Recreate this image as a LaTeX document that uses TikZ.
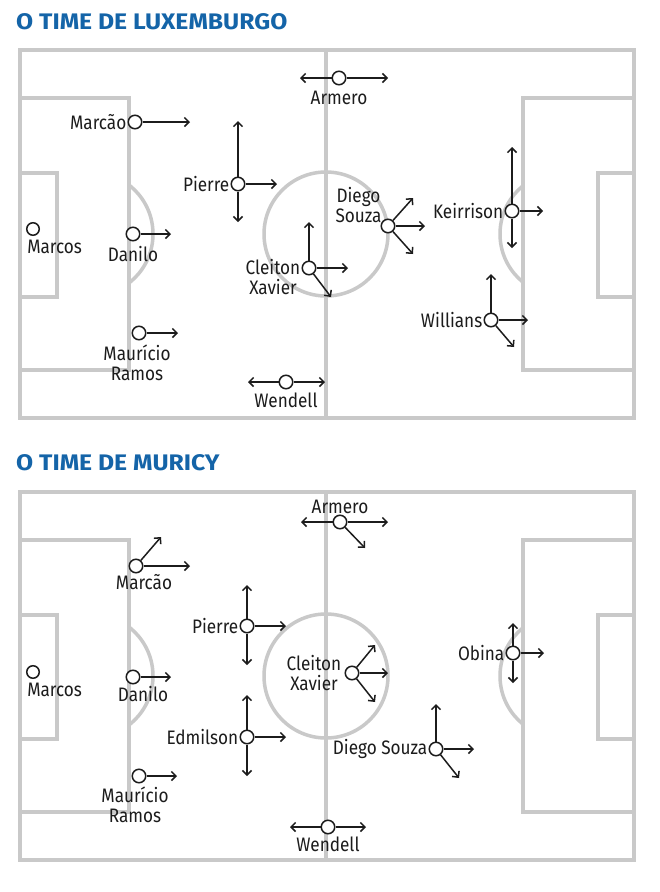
\documentclass[tikz,border=0pt]{standalone}
\usepackage{fontspec}
\usepackage{xcolor}
\usepackage{tikz}
\usetikzlibrary{arrows.meta,positioning}
\setmainfont{Fira Sans}
\newfontfamily\plfamily[FakeStretch=0.88]{Fira Sans}
\newfontfamily\ttlfamily[FakeStretch=1.1]{Fira Sans}
\definecolor{PitchGray} {HTML}{C9C9C9}
\definecolor{TitleBlue} {HTML}{1464A8}
\definecolor{InkBlack}  {HTML}{1C1C1C}
\newcommand\plfont{\plfamily\fontsize{19.5}{20}\selectfont}
\newcommand\ttlfont{\ttlfamily\fontsize{22.5}{24}\selectfont\bfseries}

\tikzset{
  pitch/.style={draw=PitchGray,line width=3.5pt},
  player/.style={circle,draw=InkBlack,fill=white,line width=1.5pt,
                 minimum size=13.5pt,inner sep=0pt},
  run/.style={draw=InkBlack,line width=1.5pt,
              -{Straight Barb[length=4.5pt,width=9pt]}},
  plabel/.style={font=\plfont,text=InkBlack,inner sep=1pt,align=center},
  teamtitle/.style={font=\ttlfont,text=TitleBlue,anchor=base west,inner sep=0pt}
}

\begin{document}
\begin{tikzpicture}[x=1pt,y=-1pt]
  \fill[white] (0,0) rectangle (660,892);
  \useasboundingbox (0,0) rectangle (660,892);

  % the two pitches
  \foreach \t in {50,492}{
    \draw[pitch] (20,\t) rectangle (634,\t+368);
    \draw[pitch] (326,\t) -- (326,\t+368);
    \draw[pitch] (326,\t+184) circle (62);
    \draw[pitch] (20,\t+48) -- (129,\t+48) -- (129,\t+320) -- (20,\t+320);
    \draw[pitch] (20,\t+123) -- (57,\t+123) -- (57,\t+247) -- (20,\t+247);
    \draw[pitch] (634,\t+48) -- (523,\t+48) -- (523,\t+320) -- (634,\t+320);
    \draw[pitch] (634,\t+123) -- (598,\t+123) -- (598,\t+247) -- (634,\t+247);
    \begin{scope}
      \clip (129,\t) rectangle (200,\t+368);
      \draw[pitch] (91,\t+184) circle (62);
    \end{scope}
    \begin{scope}
      \clip (450,\t) rectangle (523,\t+368);
      \draw[pitch] (562,\t+184) circle (62);
    \end{scope}
  }

  \node[teamtitle] (title-lx) at (16,29) {O TIME DE LUXEMBURGO};
  \node[teamtitle] (title-mu) at (16,470) {O TIME DE MURICY};

  % Luxemburgo
  \node[player] (lx-armero)   at (339,78)  {};
  \node[player] (lx-marcao)   at (135,122) {};
  \node[player] (lx-pierre)   at (238,184) {};
  \node[player,minimum size=12.5pt] (lx-marcos) at (33,229) {};
  \node[player] (lx-danilo)   at (133,234) {};
  \node[player] (lx-mauricio) at (139,333) {};
  \node[player] (lx-cleiton)  at (309,268) {};
  \node[player] (lx-diego)    at (388,226) {};
  \node[player] (lx-keirrison) at (512,211) {};
  \node[player] (lx-willians) at (491,320) {};
  \node[player] (lx-wendell)  at (286,382) {};

  \draw[run] (lx-armero) -- ++(-39,0);
  \draw[run] (lx-armero) -- ++(49,0);
  \draw[run] (lx-marcao) -- ++(55,0);
  \draw[run] (lx-pierre) -- ++(0,-63);
  \draw[run] (lx-pierre) -- ++(39,0);
  \draw[run] (lx-pierre) -- ++(0,38);
  \draw[run] (lx-danilo) -- ++(38,0);
  \draw[run] (lx-mauricio) -- ++(39,0);
  \draw[run] (lx-cleiton) -- ++(0,-46);
  \draw[run] (lx-cleiton) -- ++(39,0);
  \draw[run] (lx-cleiton) -- ++(22,29);
  \draw[run] (lx-diego) -- ++(25,-28);
  \draw[run] (lx-diego) -- ++(37,0);
  \draw[run] (lx-diego) -- ++(25,28);
  \draw[run] (lx-keirrison) -- ++(0,-64);
  \draw[run] (lx-keirrison) -- ++(31,0);
  \draw[run] (lx-keirrison) -- ++(0,37);
  \draw[run] (lx-willians) -- ++(0,-46);
  \draw[run] (lx-willians) -- ++(37,0);
  \draw[run] (lx-willians) -- ++(23,27);
  \draw[run] (lx-wendell) -- ++(-38,0);
  \draw[run] (lx-wendell) -- ++(39,0);

  \node[plabel,below=4pt of lx-armero] (lx-armero-l) {Armero};
  \node[plabel,left=0pt of lx-marcao] (lx-marcao-l) {Marcão};
  \node[plabel,left=0pt of lx-pierre] (lx-pierre-l) {Pierre};
  \node[plabel,anchor=north west] (lx-marcos-l) at ([xshift=-2pt,yshift=-5pt]lx-marcos.south west) {Marcos};
  \node[plabel,below=4pt of lx-danilo] (lx-danilo-l) {Danilo};
  \node[plabel,below=3pt of lx-mauricio,xshift=-2pt] (lx-mauricio-l) {Maurício\\Ramos};
  \node[plabel,left=0pt of lx-cleiton,yshift=-9pt] (lx-cleiton-l) {Cleiton\\Xavier};
  \node[plabel,anchor=south east] (lx-diego-l) at ([xshift=0pt,yshift=-3pt]lx-diego.north west) {Diego\\Souza};
  \node[plabel,left=0pt of lx-keirrison] (lx-keirrison-l) {Keirrison};
  \node[plabel,left=0pt of lx-willians] (lx-willians-l) {Willians};
  \node[plabel,below=2pt of lx-wendell] (lx-wendell-l) {Wendell};

  % Muricy
  \node[player] (mu-armero)   at (340,522) {};
  \node[player] (mu-marcao)   at (136,566) {};
  \node[player] (mu-pierre)   at (247,626) {};
  \node[player,minimum size=12.5pt] (mu-marcos) at (33,672) {};
  \node[player] (mu-danilo)   at (133,677) {};
  \node[player] (mu-cleiton)  at (352,673) {};
  \node[player] (mu-edmilson) at (247,737) {};
  \node[player] (mu-obina)    at (513,653) {};
  \node[player] (mu-diego)    at (436,749) {};
  \node[player] (mu-mauricio) at (139,776) {};
  \node[player] (mu-wendell)  at (328,827) {};

  \draw[run] (mu-armero) -- ++(-39,0);
  \draw[run] (mu-armero) -- ++(48,0);
  \draw[run] (mu-armero) -- ++(25,26);
  \draw[run] (mu-marcao) -- ++(54,0);
  \draw[run] (mu-marcao) -- ++(25,-29);
  \draw[run] (mu-pierre) -- ++(0,-41);
  \draw[run] (mu-pierre) -- ++(39,0);
  \draw[run] (mu-pierre) -- ++(0,39);
  \draw[run] (mu-danilo) -- ++(38,0);
  \draw[run] (mu-cleiton) -- ++(23,-28);
  \draw[run] (mu-cleiton) -- ++(36,0);
  \draw[run] (mu-cleiton) -- ++(23,29);
  \draw[run] (mu-edmilson) -- ++(0,-42);
  \draw[run] (mu-edmilson) -- ++(39,0);
  \draw[run] (mu-edmilson) -- ++(0,39);
  \draw[run] (mu-obina) -- ++(0,-30);
  \draw[run] (mu-obina) -- ++(31,0);
  \draw[run] (mu-obina) -- ++(0,30);
  \draw[run] (mu-diego) -- ++(0,-45);
  \draw[run] (mu-diego) -- ++(38,0);
  \draw[run] (mu-diego) -- ++(23,29);
  \draw[run] (mu-mauricio) -- ++(38,0);
  \draw[run] (mu-wendell) -- ++(-38,0);
  \draw[run] (mu-wendell) -- ++(38,0);

  \node[plabel,above=0pt of mu-armero] (mu-armero-l) {Armero};
  \node[plabel,below=0pt of mu-marcao,xshift=8pt] (mu-marcao-l) {Marcão};
  \node[plabel,left=0pt of mu-pierre] (mu-pierre-l) {Pierre};
  \node[plabel,anchor=north west] (mu-marcos-l) at ([xshift=-2pt,yshift=-5pt]mu-marcos.south west) {Marcos};
  \node[plabel,below=1pt of mu-danilo,xshift=10pt] (mu-danilo-l) {Danilo};
  \node[plabel,left=2pt of mu-cleiton] (mu-cleiton-l) {Cleiton\\Xavier};
  \node[plabel,left=0pt of mu-edmilson] (mu-edmilson-l) {Edmilson};
  \node[plabel,left=0pt of mu-obina] (mu-obina-l) {Obina};
  \node[plabel,left=0pt of mu-diego] (mu-diego-l) {Diego Souza};
  \node[plabel,below=2pt of mu-mauricio,xshift=-4pt] (mu-mauricio-l) {Maurício\\Ramos};
  \node[plabel,below=1pt of mu-wendell] (mu-wendell-l) {Wendell};
\end{tikzpicture}
\end{document}
